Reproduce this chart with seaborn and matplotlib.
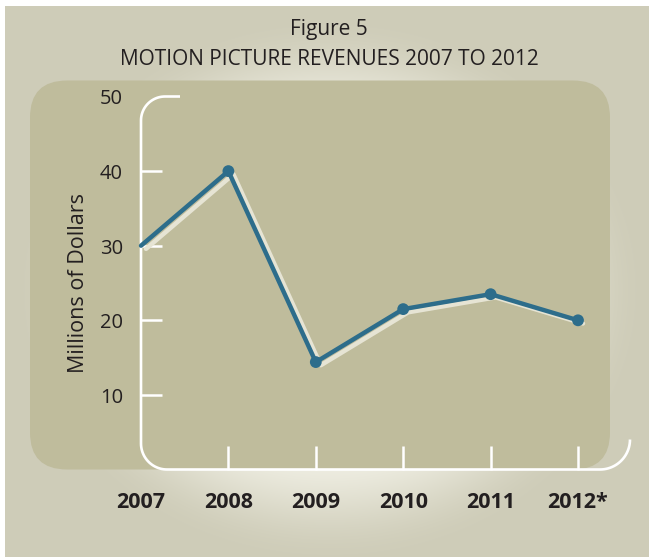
import numpy as np
import pandas as pd
import matplotlib
matplotlib.use("Agg")
import matplotlib.pyplot as plt
import matplotlib.patheffects as pe
from matplotlib.patches import FancyBboxPatch
import seaborn as sns

# ---- data -------------------------------------------------------------
years = ["2007", "2008", "2009", "2010", "2011", "2012*"]
revenue = [30, 40, 14.4, 21.5, 23.5, 20]          # millions of dollars
y_ticks = [10, 20, 30, 40, 50]

title_top = "Figure 5"
title_main = "MOTION PICTURE REVENUES 2007 TO 2012"
y_label = "Millions of Dollars"

# ---- style ------------------------------------------------------------
W, H = 649, 557
sns.set_theme(style="white")
plt.rcParams["font.family"] = ["Open Sans", "DejaVu Sans"]

TEXT = "#231f20"
LINE = "#2d6d8b"
SHADOW = "#e6e4d4"
PANEL = "#bfbc9c"
OUTER = "#cfcdb7"

# half-pixel margin so the canvas rounds to exactly W x H
fig = plt.figure(figsize=((W + 0.5) / 100, (H + 0.5) / 100), dpi=100,
                 facecolor=OUTER)

# soft radial glow behind everything, placed pixel for pixel
yy, xx = np.mgrid[0:H, 0:W] + 0.5
d = np.sqrt(((xx - 330) / 300) ** 2 + ((yy - 290) / 260) ** 2)
t = np.clip((d - 0.6) / (1.05 - 0.6), 0, 1)
t = t * t * (3 - 2 * t)
light = np.array([240, 239, 228], dtype=float)
dark = np.array([206, 204, 184], dtype=float)
img = (light * (1 - t[..., None]) + dark * t[..., None]).round().astype(np.uint8)
img[:, :5] = 255          # white margin on the left
img[:6, :] = 255          # white margin on top
fig.figimage(img, xo=0, yo=0, origin="upper", zorder=-10)

# background layer in pixel units (y pointing down)
bg = fig.add_axes([0, 0, 1, 1])
bg.axis("off")
bg.set_xlim(0, W + 0.5)
bg.set_ylim(H + 0.5, 0)

bg.add_patch(FancyBboxPatch((30, 81), 580, 389,
                            boxstyle="round,pad=0,rounding_size=37",
                            facecolor=PANEL, edgecolor="none", zorder=2))


def arc(cx, cy, r, a0, a1, n=24):
    a = np.radians(np.linspace(a0, a1, n))
    return np.column_stack([cx + r * np.cos(a), cy + r * np.sin(a)])


# rounded white frame of the plotting area
frame = np.vstack([
    [[180, 97]],
    arc(165, 121, 24, -90, -180),
    arc(167, 444, 26, 180, 90),
    arc(600, 440, 30, 90, 0),
])
bg.plot(frame[:, 0], frame[:, 1], color="white", lw=1.9,
        solid_capstyle="butt", solid_joinstyle="round", zorder=3)

FW, FH = W + 0.5, H + 0.5

# titles
fig.text(329 / FW, 1 - 35.5 / FH, title_top, ha="center", va="baseline",
         fontsize=15, color=TEXT)
fig.text(329 / FW, 1 - 65 / FH, title_main, ha="center", va="baseline",
         fontsize=15, color=TEXT)

# ---- chart --------------------------------------------------------------
ax = fig.add_axes([141 / FW, 1 - 470 / FH, 437 / FW, 373 / FH])
ax.set_facecolor("none")
for s in ax.spines.values():
    s.set_visible(False)

df = pd.DataFrame({"pos": np.arange(len(years)), "revenue": revenue})
sns.lineplot(data=df, x="pos", y="revenue", ax=ax, color=LINE,
             linewidth=3.2, marker="o", markersize=8.5,
             markevery=list(range(1, len(years))), markeredgewidth=0,
             clip_on=False,
             path_effects=[pe.SimpleLineShadow(offset=(3.6, -2.3),
                                               shadow_color=SHADOW, alpha=1.0),
                           pe.Normal()])

ax.set_xlim(0, len(years) - 1)
ax.set_ylim(0, 50)
ax.set_xticks(np.arange(len(years)))
ax.set_xticklabels(years, fontweight="bold")
ax.set_yticks(y_ticks)
ax.set_yticklabels([str(v) for v in y_ticks])
ax.tick_params(axis="y", direction="in", length=15, width=1.8, color="white",
               pad=13, labelsize=14.5, labelcolor=TEXT, left=True)
ax.tick_params(axis="x", direction="in", length=17, width=1.8, color="white",
               pad=15.5, labelsize=15.5, labelcolor=TEXT, bottom=True)
ax.yaxis.get_major_ticks()[-1].tick1line.set_visible(False)
ax.xaxis.get_major_ticks()[0].tick1line.set_visible(False)
ax.set_xlabel("")
ax.set_ylabel("")
ax.grid(False)

fig.text(78 / FW, 1 - 283 / FH, y_label, rotation=90, ha="center", va="center",
         fontsize=15.5, color=TEXT)

fig.savefig("out.png", dpi=100, facecolor=OUTER)
